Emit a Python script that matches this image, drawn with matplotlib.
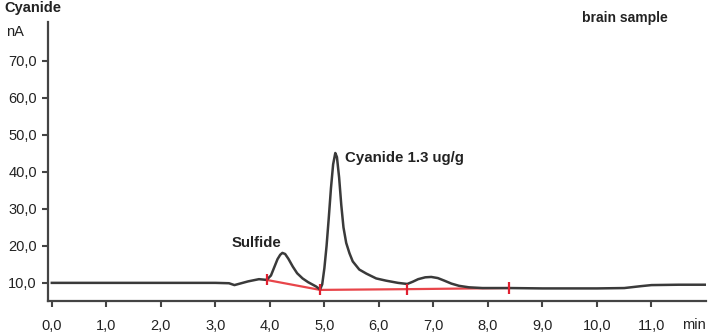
import matplotlib.pyplot as plt

plt.rcParams['font.family'] = ['Liberation Sans', 'DejaVu Sans']

# chromatogram trace (min, nA)
time = [0.0, 1.0, 2.0, 3.0, 3.25, 3.35, 3.45, 3.6, 3.8, 3.94, 4.02, 4.08,
        4.14, 4.19, 4.23, 4.28, 4.34, 4.42, 4.5, 4.6, 4.7, 4.85, 4.92, 4.96,
        5.0, 5.04, 5.08, 5.12, 5.16, 5.2, 5.23, 5.27, 5.31, 5.35, 5.4, 5.46,
        5.52, 5.64, 5.77, 5.95, 6.13, 6.35, 6.52, 6.62, 6.72, 6.85, 6.96,
        7.08, 7.2, 7.33, 7.47, 7.65, 7.9, 8.4, 9.0, 10.0, 10.5, 10.8, 11.0,
        11.5, 12.0]
signal = [10.0, 10.0, 10.0, 10.0, 9.9, 9.4, 9.8, 10.4, 11.0, 10.8, 12.0,
          14.2, 16.4, 17.6, 18.1, 17.8, 16.5, 14.4, 12.6, 11.2, 10.2, 9.0,
          8.2, 9.6, 14.0, 20.0, 27.5, 35.5, 42.0, 45.1, 44.0, 38.5, 31.0,
          25.0, 20.8, 18.0, 15.8, 13.6, 12.5, 11.2, 10.6, 10.0, 9.7, 10.3,
          11.0, 11.5, 11.6, 11.3, 10.6, 9.8, 9.2, 8.8, 8.6, 8.6, 8.5, 8.5,
          8.6, 9.1, 9.4, 9.5, 9.5]

# integration baseline (red)
base_t = [3.94, 4.92, 6.52, 8.39]
base_v = [10.8, 8.1, 8.3, 8.6]

xticks = [0, 1, 2, 3, 4, 5, 6, 7, 8, 9, 10, 11]
xlabels = ['0,0', '1,0', '2,0', '3,0', '4,0', '5,0', '6,0', '7,0', '8,0',
           '9,0', '10,0', '11,0']
yticks = [10, 20, 30, 40, 50, 60, 70]
ylabels = ['10,0', '20,0', '30,0', '40,0', '50,0', '60,0', '70,0']

fig = plt.figure(figsize=(7.09, 3.33), dpi=100)
ax = fig.add_axes([48 / 709, 32 / 333, 658 / 709, 279 / 333])

ax.plot(base_t, base_v, color='#e8454a', lw=1.6, zorder=2)
ax.vlines(base_t, [v - 1.5 for v in base_v], [v + 1.5 for v in base_v],
          color='#e02030', lw=1.6, zorder=5)
ax.plot(time, signal, color='#3a3a3a', lw=1.8, zorder=4)

ax.set_xlim(-0.07, 12.0)
ax.set_ylim(5.1, 80.5)
ax.set_xticks(xticks)
ax.set_xticklabels(xlabels)
ax.set_yticks(yticks)
ax.set_yticklabels(ylabels)

for side in ['top', 'right']:
    ax.spines[side].set_visible(False)
for side in ['left', 'bottom']:
    ax.spines[side].set_color('#444444')
    ax.spines[side].set_linewidth(1.6)

ax.tick_params(axis='x', length=4, width=1.5, color='#444444', pad=9,
               labelsize=10.5, labelcolor='#222222')
ax.tick_params(axis='y', length=4, width=1.5, color='#444444', pad=4,
               labelsize=10.5, labelcolor='#222222')

fig.text(4 / 709, 1 - 8 / 333, 'Cyanide', fontsize=10.5, fontweight='bold',
         va='center', ha='left', color='#222222')
fig.text(6 / 709, 1 - 32 / 333, 'nA', fontsize=10.5, va='center', ha='left',
         color='#222222')
fig.text(694 / 709, 1 - 325 / 333, 'min', fontsize=10.5, va='center',
         ha='center', color='#222222')
fig.text(582 / 709, 1 - 18 / 333, 'brain sample', fontsize=10,
         fontweight='bold', va='center', ha='left', color='#222222')

ax.text(3.76, 20.8, 'Sulfide', fontsize=10.8, fontweight='bold', ha='center',
        va='center', color='#222222')
ax.text(5.37, 43.8, 'Cyanide 1.3 ug/g', fontsize=10.8, fontweight='bold',
        ha='left', va='center', color='#222222')

plt.savefig('out.png', dpi=100)
